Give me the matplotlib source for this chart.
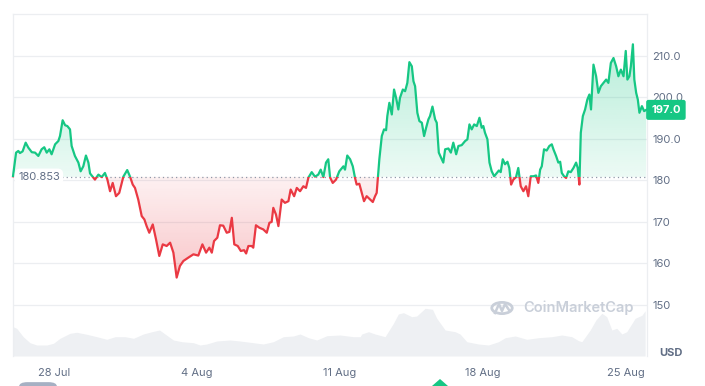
import numpy as np
import matplotlib
matplotlib.use("Agg")
import matplotlib.pyplot as plt
from matplotlib.patches import Rectangle, FancyBboxPatch, Circle, Polygon
from matplotlib.path import Path

plt.rcParams['font.family'] = ['Inter', 'DejaVu Sans']

# time in days since 26 Jul 00:00, price in USD
days = [0.00, 0.15, 0.26, 0.34, 0.47, 0.62, 0.75, 0.92, 1.08, 1.24, 1.40, 1.53, 1.65, 1.78, 1.89,
        2.06, 2.22, 2.30, 2.43, 2.55, 2.66, 2.79, 2.87, 3.03, 3.20, 3.31, 3.44, 3.57, 3.69, 3.77,
        3.90, 4.01, 4.18, 4.34, 4.50, 4.62, 4.75, 4.88, 5.04, 5.20, 5.40, 5.59, 5.73, 5.86, 5.97,
        6.13, 6.30, 6.43, 6.54, 6.67, 6.84, 7.00, 7.16, 7.33, 7.52, 7.69, 7.85, 8.01, 8.17, 8.34,
        8.58, 8.83, 9.07, 9.27, 9.45, 9.61, 9.73, 9.84, 10.00, 10.13, 10.29, 10.46, 10.59, 10.71,
        10.83, 11.00, 11.15, 11.31, 11.41, 11.52, 11.68, 11.76, 11.89, 12.06, 12.25, 12.42, 12.55,
        12.66, 12.74, 12.87, 12.99, 13.15, 13.31, 13.48, 13.59, 13.76, 13.89, 14.05, 14.21, 14.34,
        14.46, 14.62, 14.78, 14.94, 15.06, 15.19, 15.32, 15.43, 15.52, 15.65, 15.81, 15.97, 16.17,
        16.25, 16.36, 16.50, 16.63, 16.74, 16.82, 16.95, 17.07, 17.18, 17.31, 17.48, 17.61, 17.72,
        17.80, 17.93, 18.05, 18.16, 18.26, 18.32, 18.42, 18.54, 18.65, 18.75, 18.86, 18.94, 19.08,
        19.19, 19.30, 19.40, 19.52, 19.60, 19.68, 19.79, 19.89, 20.01, 20.12, 20.22, 20.33, 20.41,
        20.53, 20.66, 20.74, 20.84, 20.95, 21.06, 21.15, 21.31, 21.43, 21.55, 21.69, 21.80, 21.96,
        22.13, 22.24, 22.34, 22.45, 22.57, 22.70, 22.83, 22.94, 23.02, 23.10, 23.22, 23.32, 23.43,
        23.55, 23.68, 23.78, 23.87, 23.97, 24.08, 24.20, 24.29, 24.38, 24.49, 24.62, 24.73, 24.85,
        24.98, 25.11, 25.22, 25.34, 25.47, 25.60, 25.71, 25.80, 25.88, 25.99, 26.12, 26.25, 26.37,
        26.45, 26.58, 26.69, 26.78, 26.86, 26.97, 27.07, 27.18, 27.30, 27.43, 27.56, 27.64, 27.72,
        27.79, 27.89, 28.00, 28.11, 28.21, 28.29, 28.41, 28.54, 28.65, 28.77, 28.90, 29.03, 29.14,
        29.26, 29.39, 29.52, 29.63, 29.75, 29.88, 29.99, 30.07, 30.17, 30.24, 30.34, 30.41, 30.50,
        30.58, 30.66, 30.78, 30.89, 30.99]
price = [181.0, 186.7, 187.1, 186.6, 187.0, 189.1, 187.9, 186.8, 186.7, 185.9, 187.5, 188.0, 186.7, 187.5, 186.3,
         188.7, 189.5, 190.7, 194.5, 193.3, 193.1, 192.3, 188.3, 185.9, 184.3, 182.2, 183.4, 186.0, 184.3, 181.7,
         180.9, 180.2, 181.4, 180.8, 181.8, 180.2, 177.4, 179.4, 176.2, 177.0, 180.9, 182.5, 180.9, 179.0, 178.2,
         175.4, 171.4, 170.6, 169.0, 167.4, 169.4, 165.8, 161.8, 164.6, 164.2, 165.0, 162.6, 156.6, 159.4, 160.6,
         161.4, 162.2, 161.9, 164.6, 162.6, 163.8, 162.6, 165.4, 166.2, 169.2, 169.1, 167.4, 167.6, 171.0,
         164.6, 164.2, 163.0, 163.2, 162.4, 164.2, 164.2, 163.8, 169.2, 168.6, 168.2, 167.4, 169.8,
         170.0, 173.4, 171.8, 169.0, 175.4, 174.6, 175.0, 177.8, 176.2, 178.2, 177.4, 178.6, 178.2,
         180.7, 182.0, 180.9, 181.4, 182.6, 180.8, 184.3, 185.1, 180.7, 179.4, 180.2, 182.2, 183.4,
         182.6, 186.0, 185.1, 183.4, 180.6, 179.0, 179.2, 177.0, 175.0, 176.2, 175.4, 174.8, 176.2,
         177.0, 185.1, 190.7, 192.3, 192.1, 195.5, 198.7, 195.9, 201.9, 199.9, 197.1, 199.9, 201.9,
         201.5, 203.5, 208.5, 207.5, 203.9, 202.7, 196.3, 194.3, 193.9, 190.7, 192.7, 194.7, 195.5,
         197.8, 194.7, 193.9, 186.7, 185.5, 184.3, 187.5, 187.7, 186.7, 189.1, 186.3, 188.3, 188.5,
         189.5, 189.9, 193.5, 192.3, 193.5, 193.1, 195.1, 192.7, 193.1, 191.5, 189.9, 184.3, 182.2,
         181.0, 181.8, 182.4, 182.0, 185.1, 183.9, 184.5, 183.0, 179.0, 180.2, 180.8, 183.0, 178.6,
         177.4, 178.6, 176.2, 181.0, 181.0, 181.2, 179.4, 182.6, 183.4, 187.5, 187.2, 188.3, 188.7,
         187.5, 185.9, 184.3, 184.5, 181.8, 181.0, 180.6, 182.2, 182.0, 183.0, 184.3, 183.0, 179.0,
         191.5, 195.5, 197.1, 199.5, 200.7, 197.1, 207.9, 205.1, 201.1, 202.7, 203.5, 204.3, 203.5,
         208.3, 209.5, 207.5, 205.1, 206.7, 205.1, 211.2, 204.3, 205.1, 207.5, 212.8, 204.3, 201.1,
         199.5, 196.3, 197.9, 196.7, 197.0]

# 24h volume, million USD
vol_days = [0.0, 0.18, 0.5, 0.83, 1.16, 1.65, 1.98, 2.30, 2.79, 3.12, 3.61, 4.10, 4.59, 5.0, 5.49,
            5.90, 6.38, 6.80, 7.17, 7.44, 7.85, 8.26, 8.83, 9.15, 9.48, 9.97, 10.62, 11.11, 11.76,
            12.25, 12.74, 13.23, 13.72, 14.05, 14.46, 14.87, 15.36, 16.01, 16.66, 16.99, 17.07,
            17.40, 17.72, 18.21, 18.62, 18.86, 19.11, 19.52, 19.76, 20.17, 20.53, 20.74, 21.15,
            21.64, 21.88, 22.21, 22.78, 23.27, 23.76, 24.09, 24.58, 25.15, 25.72, 26.37, 26.86,
            27.35, 27.68, 27.84, 28.25, 28.53, 28.82, 29.06, 29.31, 29.55, 29.80, 30.04, 30.45,
            30.78, 30.94]
volume = [293, 277, 193, 133, 110, 110, 127, 177, 227, 237, 217, 193, 167, 193, 193,
          177, 220, 243, 260, 220, 160, 143, 133, 110, 120, 150, 160, 150, 133,
          120, 143, 193, 200, 220, 183, 160, 203, 210, 193, 193, 220,
          243, 220, 193, 327, 420, 433, 393, 400, 477, 467, 377, 260,
          243, 220, 143, 120, 110, 143, 183, 200, 167, 183, 193, 210,
          193, 153, 143, 260, 360, 427, 393, 260, 277, 220, 243, 377,
          407, 453]

base = 180.853
last = 197.0
yticks = [150, 160, 170, 180, 190, 200, 210]
ylabels = ['150', '160', '170', '180', '190.0', '200.0', '210.0']
xticks = [2, 9, 16, 23, 30]
xlabels = ['28 Jul', '4 Aug', '11 Aug', '18 Aug', '25 Aug']

green = '#16c784'
red = '#ea3943'
grey_txt = '#616e85'
grid_c = '#eceef1'

days = np.array(days)
price = np.array(price)
x0, x1 = 0, 31.03
y0, y1 = 137.7, 220.1

fig = plt.figure(figsize=(7.05, 3.86), dpi=100)
rect = [13 / 705, 30 / 386, 634 / 705, 342 / 386]
vax = fig.add_axes(rect)
ax = fig.add_axes(rect)
ax.patch.set_visible(False)

# volume band
vax.fill_between(vol_days, volume, 0, color='#eef0f3', lw=0)
vax.set_xlim(x0, x1)
vax.set_ylim(0, 3420)
vax.axis('off')

# grid
for t in yticks:
    ax.axhline(t, color=grid_c, lw=0.9, zorder=0)

# gradient fills
def grad_fill(mask_above, color, a_top, a_bot, ylo, yhi):
    coll = ax.fill_between(days, price, base, where=mask_above, interpolate=True,
                           facecolor='none', edgecolor='none')
    paths = coll.get_paths()
    if not paths:
        return
    clip = Path.make_compound_path(*paths)
    rgb = matplotlib.colors.to_rgb(color)
    img = np.zeros((200, 2, 4))
    img[..., :3] = rgb
    img[..., 3] = np.linspace(a_top, a_bot, 200)[:, None]
    im = ax.imshow(img, extent=[x0, x1, ylo, yhi], aspect='auto', origin='upper',
                   interpolation='bilinear', zorder=1)
    im.set_clip_path(clip, transform=ax.transData)

grad_fill(price >= base, green, 0.32, 0.08, base, 214)
grad_fill(price <= base, red, 0.07, 0.30, 155, base)

# baseline (dotted)
ax.plot([1.95, x1], [base, base], color='#8f98a8', lw=0.9, ls=(0, (1, 2.5)), zorder=2)

# price line, green above / red below baseline
lg, = ax.plot(days, price, color=green, lw=1.6, zorder=3, solid_joinstyle='round')
lr, = ax.plot(days, price, color=red, lw=1.6, zorder=3, solid_joinstyle='round')
lg.set_clip_path(Rectangle((x0 - 1, base), 40, 60, transform=ax.transData))
lr.set_clip_path(Rectangle((x0 - 1, base - 60), 40, 60, transform=ax.transData))

ax.set_xlim(x0, x1)
ax.set_ylim(y0, y1)

for s in ['left', 'top', 'right']:
    ax.spines[s].set_color(grid_c)
    ax.spines[s].set_linewidth(0.9)
ax.spines['bottom'].set_visible(False)

ax.yaxis.tick_right()
ax.set_yticks(yticks)
ax.set_yticklabels(ylabels)
ax.set_xticks(xticks)
ax.set_xticklabels(xlabels)
ax.tick_params(axis='y', length=0, pad=4, labelsize=8, labelcolor=grey_txt)
ax.tick_params(axis='x', length=0, pad=9, labelsize=8, labelcolor=grey_txt)

# baseline label
ax.text(0.25, base, '180.853', fontsize=8, color=grey_txt, va='center', ha='left', zorder=5,
        bbox=dict(boxstyle='round,pad=0.3,rounding_size=0.5', fc='white', ec='none'))

# current price tag
ax.annotate(f'{last:.1f}', xy=(1.0, last), xycoords=('axes fraction', 'data'),
            xytext=(3, 0), textcoords='offset points', fontsize=8, fontweight='bold',
            color='white', va='center', ha='left', zorder=6, annotation_clip=False,
            bbox=dict(boxstyle='round,pad=0.45,rounding_size=0.2', fc=green, ec='none'))

# currency
fig.text(671 / 705, 1 - 353 / 386, 'USD', fontsize=8, fontweight='bold', color=grey_txt,
         ha='center', va='center')

# watermark
wm = '#c9cfd9'
fig.patches.append(Circle((502 / 705, 1 - 308 / 386), 0.0145, transform=fig.transFigure,
                          fill=False, ec=wm, lw=2.0))
fig.lines.append(plt.Line2D([495 / 705, 499 / 705, 502 / 705, 505 / 705, 509 / 705],
                            [1 - 313 / 386, 1 - 304 / 386, 1 - 311 / 386, 1 - 304 / 386, 1 - 310 / 386],
                            transform=fig.transFigure, color=wm, lw=1.8))
fig.text(523 / 705, 1 - 308 / 386, 'CoinMarketCap', fontsize=10.5, fontweight='semibold',
         color=wm, ha='left', va='center')

# cut-off UI bits at the bottom edge
fig.patches.append(FancyBboxPatch((19 / 705, -0.02), 38 / 705, 0.03,
                                  boxstyle='round,pad=0,rounding_size=0.012',
                                  transform=fig.transFigure, fc='#a6b0c3', ec='none'))
fig.patches.append(Polygon([(432 / 705, 0), (440 / 705, 7 / 386), (448 / 705, 0)],
                           closed=True, transform=fig.transFigure, fc=green, ec='none'))

fig.savefig('out.png', dpi=100, facecolor='white')
